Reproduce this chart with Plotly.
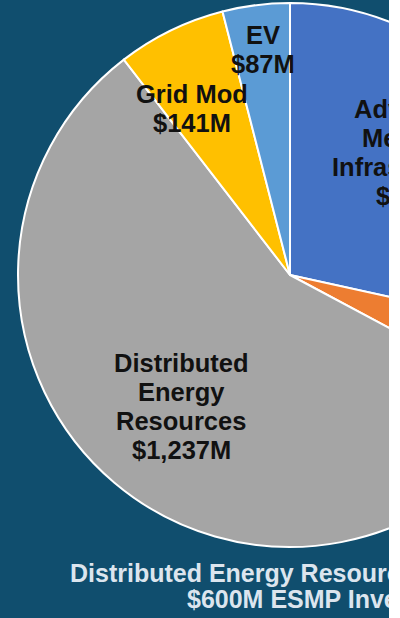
import plotly.graph_objects as go

# Spending by category, $M, in clockwise order from 12 o'clock
categories = ["Advanced Metering Infrastructure", "Other", "Distributed Energy Resources",
              "Grid Mod", "EV"]
values = [620, 95, 1237, 141, 87]
slice_colors = ["#4472C4", "#ED7D31", "#A5A5A5", "#FFC000", "#5B9BD5"]

# How each category name is broken onto lines in its label
label_breaks = {
    "Advanced Metering Infrastructure": ["Advanced", "Metering", "Infrastructure"],
    "Distributed Energy Resources": ["Distributed", "Energy", "Resources"],
    "Grid Mod": ["Grid Mod"],
    "EV": ["EV"],
}

footer_lines = ["Distributed Energy Resources includes", "$600M ESMP Investments"]

# Canvas geometry (pixels)
W, H = 600, 618
VISIBLE_W = 389
CX, CY, R = 290, 275, 272
BG = "#104E6E"

LABEL_SIZE = 25.5
FOOTER_SIZE = 25
LINE_STEP = 29
# label centre x and first baseline y for each labelled slice
label_anchor = {
    "Advanced Metering Infrastructure": (414.5, 118),
    "Distributed Energy Resources": (181, 372),
    "Grid Mod": (192, 103),
    "EV": (263, 43.5),
}


def px_x(x):
    return x / W


def px_y(y):
    return 1 - y / H


fig = go.Figure(
    go.Pie(
        labels=categories,
        values=values,
        sort=False,
        direction="clockwise",
        rotation=0,
        marker=dict(colors=slice_colors, line=dict(color="white", width=2)),
        textinfo="none",
        hoverinfo="label+value",
        showlegend=False,
        domain=dict(x=[px_x(CX - R), px_x(CX + R)], y=[px_y(CY + R), px_y(CY - R)]),
    )
)

annotations = []
for name, val in zip(categories, values):
    if name not in label_breaks:
        continue
    lines = label_breaks[name] + [f"${val:,}M"]
    cx, y0 = label_anchor[name]
    for i, line in enumerate(lines):
        base = y0 + i * LINE_STEP
        annotations.append(dict(
            text=line, x=px_x(cx), y=px_y(base - 0.35 * LABEL_SIZE),
            xref="paper", yref="paper", xanchor="center", yanchor="middle",
            showarrow=False,
            font=dict(family="Arial, Liberation Sans, sans-serif", size=LABEL_SIZE,
                      color="#111111", weight="bold"),
        ))

footer_pos = [(68, 582), (185, 608)]
for line, (x0, base) in zip(footer_lines, footer_pos):
    annotations.append(dict(
        text=line, x=px_x(x0), y=px_y(base - 0.35 * FOOTER_SIZE),
        xref="paper", yref="paper", xanchor="left", yanchor="middle",
        showarrow=False,
        font=dict(family="Arial, Liberation Sans, sans-serif", size=FOOTER_SIZE,
                  color="#DCE5EE", weight="bold"),
    ))

fig.update_layout(
    width=W, height=H,
    margin=dict(l=0, r=0, t=0, b=0, pad=0),
    paper_bgcolor=BG,
    plot_bgcolor=BG,
    annotations=annotations,
)

# show only the left part of the canvas; the page background fills the rest
clip_js = f"""
var gd = document.getElementById('{{plot_id}}');
document.documentElement.style.overflow = 'hidden';
document.body.style.margin = '0';
document.body.style.overflow = 'hidden';
document.body.style.background = 'white';
gd.style.width = '{VISIBLE_W}px';
gd.style.overflow = 'hidden';
"""

fig.write_html("out.html", config={"responsive": False}, post_script=clip_js)
